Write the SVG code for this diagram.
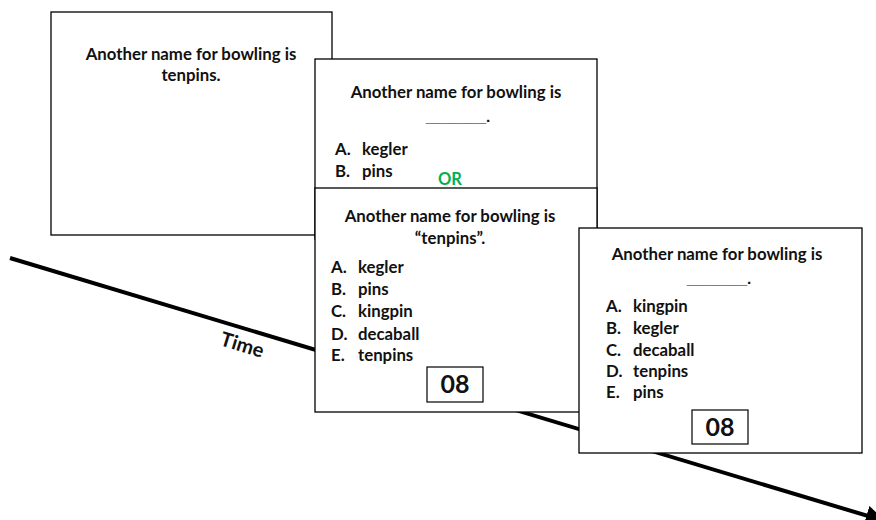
<svg xmlns="http://www.w3.org/2000/svg" width="876" height="520" viewBox="0 0 876 520">
  <style>
    .card { fill: #ffffff; stroke: #000000; stroke-width: 1.3; }
    .t { font-family: Lato, "Open Sans", "Liberation Sans", sans-serif; font-weight: 700; font-size: 16.8px; fill: #111111; }
    .c { text-anchor: middle; }
    .axis-label { font-family: Lato, "Open Sans", "Liberation Sans", sans-serif; font-weight: 700; font-size: 20px; fill: #111111; }
    .blank { font-family: "Liberation Sans", Arial, sans-serif; font-weight: 700; font-size: 15.5px; fill: #111111; text-anchor: middle; }
    .num { font-family: Lato, "Open Sans", "Liberation Sans", sans-serif; font-weight: 700; font-size: 25px; fill: #111111; text-anchor: middle; }
    .or { font-family: Lato, "Open Sans", "Liberation Sans", sans-serif; font-weight: 700; font-size: 16.5px; fill: #00b050; }
    .timer { fill: #ffffff; stroke: #000000; stroke-width: 1.2; }
  </style>
  <defs>
    <marker id="arrow" markerWidth="5" markerHeight="5" refX="3" refY="2.5" orient="auto" markerUnits="strokeWidth">
      <path d="M0,0 L5,2.5 L0,5 z" fill="#000000"/>
    </marker>
  </defs>
  <rect width="876" height="520" fill="#ffffff"/>

  <!-- statement card -->
  <g id="statement-card">
    <rect class="card" x="51" y="12" width="281" height="223"/>
    <text class="t c" x="191" y="60">Another name for bowling is</text>
    <text class="t c" x="191" y="81">tenpins.</text>
  </g>

  <!-- time axis -->
  <g id="connectors">
    <line x1="10" y1="258" x2="878" y2="519" stroke="#000000" stroke-width="4" marker-end="url(#arrow)"/>
    <text class="axis-label" x="0" y="0" transform="translate(219,345) rotate(16.8)">Time</text>
  </g>

  <!-- two-choice question card -->
  <g id="two-choice-card">
    <rect class="card" x="315" y="59" width="282" height="180"/>
    <text class="t c" x="456" y="98">Another name for bowling is</text>
    <text class="blank" x="458" y="122">_______.</text>
    <text class="t" x="335" y="155">A.</text><text class="t" x="362" y="155">kegler</text>
    <text class="t" x="335" y="177">B.</text><text class="t" x="362" y="177">pins</text>
    <text class="or" x="438" y="185">OR</text>
  </g>

  <!-- five-choice recognition card -->
  <g id="recognition-card">
    <rect class="card" x="315" y="188" width="282" height="224"/>
    <text class="t c" x="450" y="222">Another name for bowling is</text>
    <text class="t c" x="450" y="244">“tenpins”.</text>
    <text class="t" x="331" y="273">A.</text><text class="t" x="358" y="273">kegler</text>
    <text class="t" x="331" y="295">B.</text><text class="t" x="358" y="295">pins</text>
    <text class="t" x="331" y="317">C.</text><text class="t" x="358" y="317">kingpin</text>
    <text class="t" x="331" y="340">D.</text><text class="t" x="358" y="340">decaball</text>
    <text class="t" x="331" y="361">E.</text><text class="t" x="358" y="361">tenpins</text>
    <rect class="timer" x="427" y="367" width="56" height="35"/>
    <text class="num" x="455" y="393">08</text>
  </g>

  <!-- five-choice recall card -->
  <g id="recall-card">
    <rect class="card" x="579" y="228" width="283" height="225"/>
    <text class="t c" x="717" y="260">Another name for bowling is</text>
    <text class="blank" x="719" y="284">_______.</text>
    <text class="t" x="606" y="312">A.</text><text class="t" x="633" y="312">kingpin</text>
    <text class="t" x="606" y="334">B.</text><text class="t" x="633" y="334">kegler</text>
    <text class="t" x="606" y="356">C.</text><text class="t" x="633" y="356">decaball</text>
    <text class="t" x="606" y="377">D.</text><text class="t" x="633" y="377">tenpins</text>
    <text class="t" x="606" y="398">E.</text><text class="t" x="633" y="398">pins</text>
    <rect class="timer" x="692" y="410" width="56" height="34"/>
    <text class="num" x="720" y="436">08</text>
  </g>
</svg>
